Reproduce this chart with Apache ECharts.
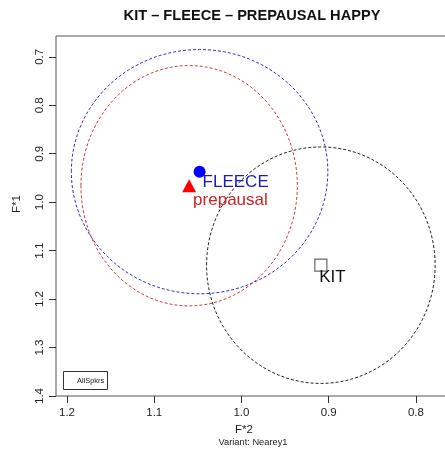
<!DOCTYPE html>
<html>
<head>
<meta charset="utf-8">
<script src="https://cdn.jsdelivr.net/npm/echarts@6/dist/echarts.min.js"></script>
<style>
  html, body { margin: 0; padding: 0; background: #fff; }
  #chart { width: 445px; height: 462px; }
</style>
</head>
<body>
<div id="chart"></div>
<script>
// vowel means (F*2, F*1) and spread of each vowel
const vowels = ['FLEECE', 'prepausal', 'KIT'];
const f2Mean = [1.048, 1.060, 0.909];
const f1Mean = [0.937, 0.966, 1.130];
const f2Radius = [0.147, 0.124, 0.131];
const f1Radius = [0.252, 0.248, 0.244];

const xTicks = [1.2, 1.1, 1.0, 0.9, 0.8];
const yTicks = [0.7, 0.8, 0.9, 1.0, 1.1, 1.2, 1.3, 1.4];

const ringColors = ['#3434b8', '#cc4040', '#222222'];
const textColors = ['#1c1cb0', '#cc2222', '#111111'];
const symbols = ['circle', 'triangle', 'rect'];
const symbolSizes = [12, [14, 13], 12];
const fills = ['#0000ff', '#ff0000', 'rgba(255,255,255,0)'];
const labelOffsets = [[3, 2], [4, 6], [-1, 4]];

const font = '"Liberation Sans", Arial, sans-serif';

var chart = echarts.init(document.getElementById('chart'));

// dashed rings, one per vowel
var ringSeries = {
  type: 'custom',
  data: vowels.map((v, i) => [f2Mean[i], f1Mean[i], f2Radius[i], f1Radius[i], i]),
  renderItem: function (params, api) {
    var c = api.coord([api.value(0), api.value(1)]);
    var ex = api.coord([api.value(0) + api.value(2), api.value(1)]);
    var ey = api.coord([api.value(0), api.value(1) + api.value(3)]);
    var i = api.value(4);
    return {
      type: 'ellipse',
      shape: { cx: c[0], cy: c[1], rx: Math.abs(ex[0] - c[0]), ry: Math.abs(ey[1] - c[1]) },
      style: { fill: 'none', stroke: ringColors[i], lineWidth: 1, lineDash: [3, 2] }
    };
  },
  silent: true,
  z: 1
};

var pointSeries = vowels.map(function (v, i) {
  var sz = Array.isArray(symbolSizes[i]) ? symbolSizes[i] : [symbolSizes[i], symbolSizes[i]];
  return {
    type: 'scatter',
    name: v,
    data: [[f2Mean[i], f1Mean[i]]],
    symbol: symbols[i],
    symbolSize: symbolSizes[i],
    itemStyle: {
      color: fills[i],
      borderColor: i === 2 ? '#666' : fills[i],
      borderWidth: i === 2 ? 1.2 : 0,
      opacity: 1
    },
    label: {
      show: true,
      formatter: v,
      // anchor at the point centre, then nudge
      position: [sz[0] / 2 + labelOffsets[i][0], sz[1] / 2 + labelOffsets[i][1]],
      align: 'left',
      verticalAlign: 'top',
      color: textColors[i],
      fontFamily: font,
      fontSize: 17
    },
    z: 3
  };
});

var option = {
  animation: false,
  backgroundColor: '#fff',
  title: {
    text: 'KIT – FLEECE – PREPAUSAL HAPPY',
    left: 247,
    top: 3,
    textAlign: 'center',
    textStyle: { fontFamily: font, fontSize: 14.6, fontWeight: 'bold', color: '#111' }
  },
  grid: {
    left: 56, top: 36, right: -2, bottom: 66,
    outerBoundsMode: 'none',
    show: true, borderColor: '#555', borderWidth: 1, backgroundColor: 'transparent'
  },
  xAxis: {
    type: 'value',
    inverse: true,
    min: 0.7644,
    max: 1.2126,
    axisLine: { show: false },
    splitLine: { show: false },
    axisTick: { show: true, customValues: xTicks, length: 7, lineStyle: { color: '#333' } },
    axisLabel: {
      customValues: xTicks,
      formatter: v => v.toFixed(1),
      margin: 11,
      fontFamily: font, fontSize: 11.5, color: '#222'
    }
  },
  yAxis: {
    type: 'value',
    inverse: true,
    min: 0.657,
    max: 1.4,
    axisLine: { show: false },
    splitLine: { show: false },
    axisTick: { show: true, customValues: yTicks, length: 7, lineStyle: { color: '#333' } },
    axisLabel: {
      customValues: yTicks,
      formatter: v => v.toFixed(1),
      rotate: 90,
      margin: 10,
      fontFamily: font, fontSize: 11.5, color: '#222'
    }
  },
  graphic: [
    { type: 'text', x: 17, y: 204, rotation: Math.PI / 2,
      style: { text: 'F*1', font: '11.5px ' + font, fill: '#222', align: 'center', verticalAlign: 'middle' } },
    { type: 'text', x: 244, y: 430,
      style: { text: 'F*2', font: '11.5px ' + font, fill: '#222', align: 'center', verticalAlign: 'middle' } },
    { type: 'text', x: 253, y: 442,
      style: { text: 'Variant: Nearey1', font: '9.3px ' + font, fill: '#222', align: 'center', verticalAlign: 'middle' } },
    { type: 'rect', shape: { x: 63.5, y: 371.5, width: 44, height: 18 },
      style: { fill: '#fff', stroke: '#333', lineWidth: 1 }, z: 10 },
    { type: 'text', x: 77, y: 380.5,
      style: { text: 'AllSpkrs', font: '7.4px ' + font, fill: '#111', align: 'left', verticalAlign: 'middle' }, z: 11 }
  ],
  series: [ringSeries].concat(pointSeries)
};

chart.setOption(option);
</script>
</body>
</html>
